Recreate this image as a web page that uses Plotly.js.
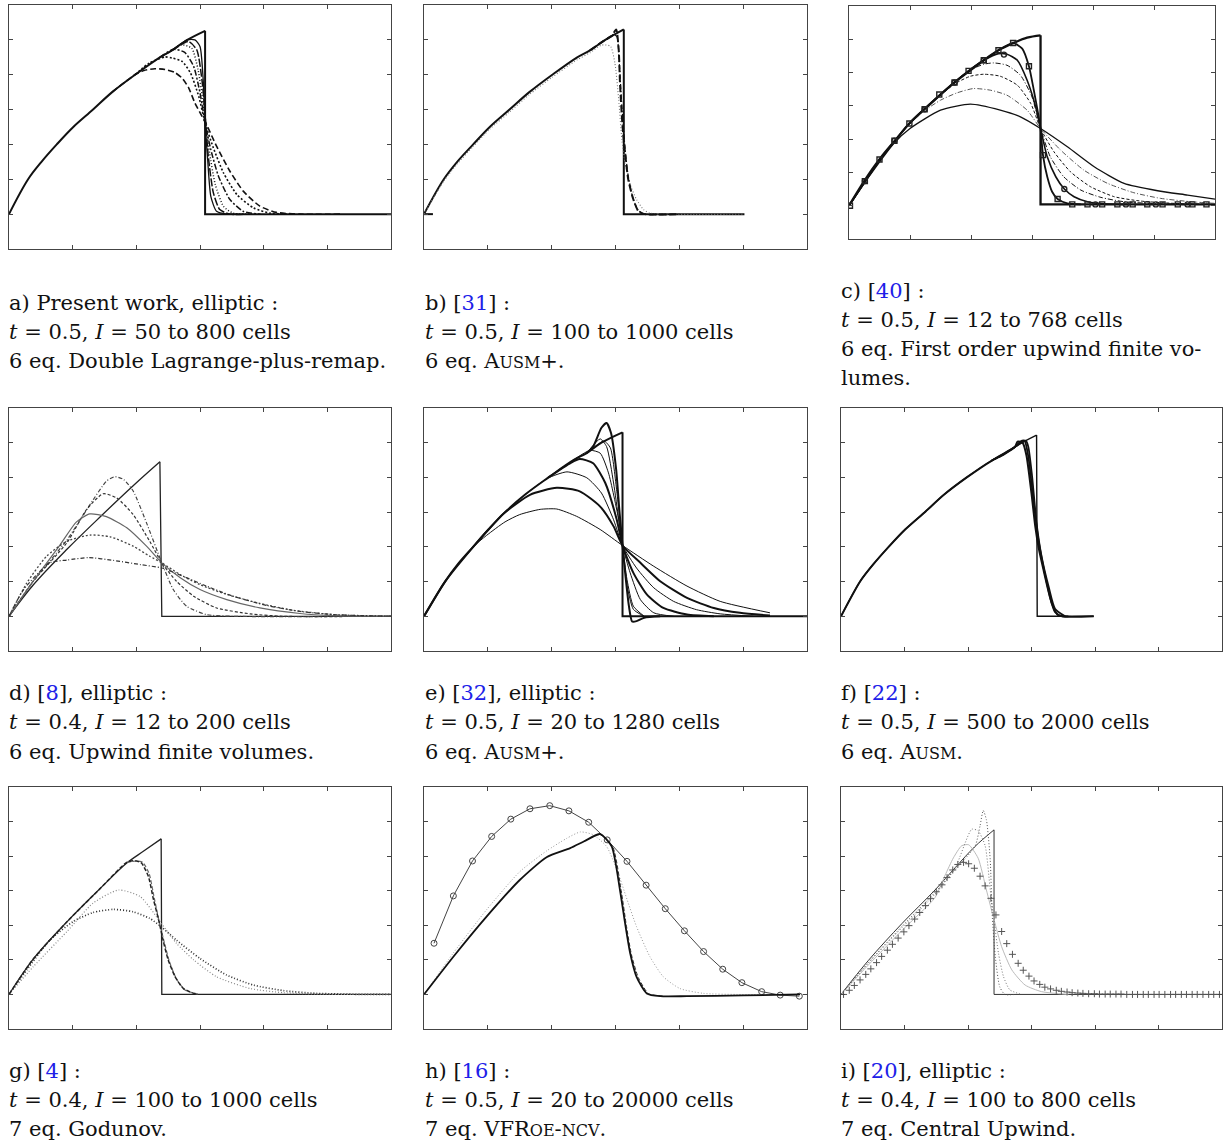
<!DOCTYPE html>
<html><head><meta charset="utf-8">
<script src="https://cdn.plot.ly/plotly-3.0.1.min.js"></script>
<style>html,body{margin:0;padding:0;background:#fff}#chart{width:1229px;height:1141px}</style>
</head><body><div id="chart"></div>
<script>
// ---------- Panel a ----------
const aRiseX=[0,0.30,0.51,0.75,1.01,1.32,1.62,1.98,2.37,2.56,2.80,3.08];
const aRiseY=[0,1,1.5,2,2.5,3,3.5,4,4.5,4.70,5.0,5.26];
const aDropX=[3.08,3.08,6];
const aDropY=[5.26,0,0];
const a1X=[1.62,1.98,2.12,2.29,2.45,2.60,2.72,2.82,2.92,3.03,3.09,3.26,3.47,3.68,3.94,4.20,4.57,5.2];
const a1Y=[3.5,4.0,4.12,4.17,4.15,4.07,3.9,3.63,3.19,2.81,2.62,1.95,1.23,0.66,0.23,0.05,0,0];
const a2X=[1.98,2.2,2.45,2.56,2.72,2.85,2.98,3.08,3.21,3.37,3.58,3.84,4.10,4.5];
const a2Y=[4.0,4.33,4.51,4.48,4.38,4.05,3.38,2.62,1.90,1.18,0.56,0.18,0.03,0];
const a3X=[2.37,2.58,2.76,2.90,3.0,3.08,3.17,3.29,3.47,3.68,3.95];
const a3Y=[4.5,4.73,4.64,4.24,3.48,2.62,1.85,1.09,0.42,0.08,0];
const a4X=[2.37,2.56,2.71,2.87,2.97,3.05,3.09,3.15,3.24,3.37,3.52,3.8];
const a4Y=[4.5,4.70,4.86,4.76,4.14,3.19,2.62,1.76,0.85,0.22,0.03,0];
const a5X=[2.56,2.82,2.95,3.03,3.07,3.09,3.13,3.21,3.31,3.47,3.7];
const a5Y=[4.70,4.95,4.71,3.86,3.1,2.62,1.66,0.61,0.13,0,0];
const a6X=[2.56,2.80,2.92,3.0,3.05,3.08,3.12,3.17,3.26,3.42,3.6];
const a6Y=[4.70,5.0,5.0,4.81,3.86,2.62,1.57,0.51,0.08,0,0];
// ---------- Panel b ----------
const bRiseX=[0,0.31,0.52,0.77,1.03,1.34,1.65,2.01,2.40,2.60,2.84,3.13];
const bRiseY=[0,1,1.5,2,2.5,3,3.5,4,4.5,4.70,5.0,5.30];
const bDropX=[3.13,3.13,5.02];
const bDropY=[5.30,0,0];
const bStubX=[0,0.14];
const bStubY=[0,0];
const b1X=[0,0.31,0.52,0.77,1.03,1.34,1.65,2.01,2.40,2.60,2.78,2.92,2.99,3.05,3.10,3.15,3.23,3.33,3.44,3.54,5.02];
const b1Y=[0,0.95,1.44,1.94,2.44,2.93,3.43,3.93,4.43,4.63,4.85,4.82,4.34,3.29,2.14,1.47,0.85,0.42,0.13,0.03,0];
const b2X=[2.60,2.84,2.94,3.01,3.05,3.07,3.11,3.15,3.20,3.28,3.36,3.46,4.0];
const b2Y=[4.70,5.0,5.11,5.30,4.73,3.77,2.52,1.76,0.99,0.42,0.08,0,0];
const b3X=[2.60,2.84,2.96,3.02,3.06,3.10,3.14,3.19,3.26,3.35,3.45,4.0];
const b3Y=[4.70,5.0,5.15,5.1,4.3,3.1,2.1,1.2,0.55,0.12,0,0];
// ---------- Panel c ----------
const cRiseX=[0,0.26,0.51,0.76,1.0,1.25,1.50,1.74,1.99,2.21,2.45,2.70,2.92,3.14];
const cRiseY=[0,0.77,1.42,1.97,2.49,2.92,3.34,3.72,4.07,4.37,4.67,4.89,5.05,5.12];
const cDropX=[3.14,3.14,6];
const cDropY=[5.12,0.04,0.04];
const c1X=[0,0.51,0.99,1.50,1.96,2.21,2.45,2.69,2.84,2.95,3.03,3.10,3.14,3.18,3.25,3.33,3.42,3.58,3.80];
const c1Y=[0,1.39,2.47,3.34,4.05,4.37,4.67,4.89,4.72,4.19,3.47,2.77,2.32,1.52,0.87,0.42,0.20,0.07,0.04];
const c2X=[0,0.51,0.99,1.50,1.96,2.21,2.45,2.59,2.76,2.92,3.06,3.14,3.25,3.39,3.53,3.69,3.91,4.24,4.56];
const c2Y=[0,1.39,2.47,3.34,4.05,4.37,4.57,4.55,4.37,3.77,2.97,2.32,1.47,0.87,0.50,0.27,0.12,0.05,0.04];
const c3X=[0,0.51,0.99,1.50,1.96,2.21,2.37,2.59,2.81,3.00,3.14,3.30,3.52,3.80,4.13,4.51,5.06,5.61];
const c3Y=[0,1.39,2.47,3.34,4.05,4.25,4.29,4.22,3.92,3.27,2.32,1.47,0.87,0.47,0.25,0.12,0.06,0.04];
const c4X=[0,0.51,0.99,1.50,1.74,1.99,2.21,2.48,2.76,2.98,3.14,3.36,3.63,3.96,4.35,4.78,5.33,6.0];
const c4Y=[0,1.39,2.47,3.32,3.67,3.89,3.95,3.89,3.62,3.07,2.32,1.62,1.02,0.57,0.27,0.14,0.07,0.04];
const c5X=[0,0.51,0.99,1.25,1.50,1.77,2.04,2.32,2.59,2.92,3.14,3.47,3.85,4.24,4.67,5.11,5.61,6.0];
const c5Y=[0,1.39,2.45,2.87,3.17,3.39,3.52,3.47,3.32,2.87,2.32,1.67,1.07,0.67,0.39,0.22,0.12,0.07];
const c6X=[0,0.345,0.745,1.0,1.50,1.99,2.48,2.81,3.14,3.58,4.02,4.51,5.06,5.55,6.0];
const c6Y=[0,0.92,1.89,2.32,2.87,3.05,2.87,2.67,2.32,1.77,1.17,0.67,0.45,0.32,0.20];
const cSqX=[0.016,0.26,0.50,0.745,0.99,1.24,1.48,1.73,1.96,2.21,2.45,2.69,2.95,3.18,3.42,3.66,3.91,4.15,4.40,4.65,4.89,5.14,5.39,5.63,5.86];
const cSqY=[0,0.74,1.39,1.95,2.47,2.90,3.34,3.70,4.05,4.37,4.67,4.89,4.19,1.52,0.20,0.04,0.04,0.04,0.04,0.04,0.04,0.04,0.04,0.04,0.04];
const cCiX=[0.26,0.745,1.24,1.73,2.21,2.54,3.53,4.04,4.54,5.03,5.55];
const cCiY=[0.74,1.95,2.90,3.70,4.37,4.54,0.50,0.04,0.04,0.04,0.04];
// ---------- Panel d ----------
const dRiseX=[0,0.38,0.91,1.43,1.95,2.37];
const dRiseY=[0,0.9,1.93,2.86,3.76,4.45];
const dDropX=[2.37,2.40,6];
const dDropY=[4.45,0,0];
const d1X=[0,0.38,0.91,1.32,1.53,1.66,1.80,1.95,2.16,2.40,2.58,2.79,3.10,3.52,6];
const d1Y=[0,1.0,2.2,3.35,3.89,4.02,3.94,3.61,2.69,1.54,0.77,0.29,0.05,0,0];
const d2X=[0,0.38,0.91,1.22,1.48,1.69,1.95,2.21,2.40,2.63,2.90,3.26,3.79,4.31,6];
const d2Y=[0,1.01,2.12,3.08,3.53,3.41,2.93,2.16,1.54,1.01,0.58,0.24,0.07,0,0];
const d3X=[0,0.38,0.80,1.06,1.27,1.53,1.85,2.16,2.40,2.69,3.0,3.42,3.94,4.57,5.09,6];
const d3Y=[0,1.01,2.05,2.72,2.95,2.87,2.55,2.02,1.54,1.11,0.77,0.48,0.24,0.08,0.02,0];
const d4X=[0,0.28,0.59,0.91,1.27,1.59,1.95,2.21,2.40,2.69,3.0,3.42,3.94,4.47,5.09,5.62,6];
const d4Y=[0,0.96,1.73,2.16,2.34,2.29,2.02,1.73,1.54,1.20,0.91,0.63,0.37,0.17,0.05,0.01,0];
const d5X=[0,0.23,0.64,0.91,1.25,1.64,2.06,2.40,2.74,3.10,3.52,4.05,4.57,5.09,6.0];
const d5Y=[0,0.77,1.54,1.62,1.69,1.61,1.49,1.39,1.15,0.87,0.58,0.31,0.14,0.05,0];
// ---------- Panel e ----------
const eRiseX=[0,0.33,0.53,0.77,1.01,1.27,1.58,1.95,2.34,2.55,2.78,3.11];
const eRiseY=[0,1,1.5,2,2.5,3,3.5,4,4.5,4.7,5.0,5.30];
const eDropX=[3.11,3.11,6];
const eDropY=[5.30,0,0];
const e1X=[0,0.33,0.77,0.98,1.27,1.50,1.82,2.08,2.39,2.76,3.11,3.60,4.12,4.64,5.42];
const e1Y=[0,1,2.0,2.33,2.72,2.93,3.08,3.09,2.88,2.50,2.04,1.44,0.87,0.43,0.10];
const e2X=[0,0.33,0.77,1.01,1.24,1.66,2.08,2.44,2.76,2.97,3.11,3.39,3.70,4.12,4.54,4.95,5.42];
const e2Y=[0,1,2,2.5,2.95,3.5,3.70,3.6,3.16,2.59,2.04,1.54,1.01,0.53,0.24,0.10,0.02];
const e3X=[1.58,1.93,2.24,2.55,2.78,2.97,3.11,3.33,3.60,3.91,4.27,4.64,5.16];
const e3Y=[3.5,3.97,4.16,3.99,3.55,2.78,2.04,1.39,0.82,0.43,0.19,0.07,0];
const e4X=[1.95,2.30,2.44,2.65,2.84,3.02,3.11,3.28,3.49,3.75,4.12,4.54];
const e4Y=[4.0,4.42,4.53,4.41,3.84,2.78,2.04,1.25,0.63,0.24,0.05,0];
const e5X=[2.34,2.60,2.76,2.89,3.05,3.11,3.23,3.39,3.60,3.91];
const e5Y=[4.5,4.78,4.70,4.13,2.78,2.04,1.25,0.48,0.10,0];
const e6X=[2.55,2.76,2.86,2.97,3.05,3.11,3.18,3.28,3.45];
const e6Y=[4.7,5.11,4.89,3.84,2.8,2.04,1.06,0.29,0];
const e7X=[2.55,2.65,2.78,2.86,2.93,3.01,3.06,3.11,3.16,3.21,3.26,3.33,3.45,3.70];
const e7Y=[4.7,4.89,5.43,5.57,5.28,4.23,3.07,2.04,1.1,0.3,-0.15,-0.14,-0.04,0];
const e8X=[2.65,2.82,2.92,3.02,3.11,3.18,3.28,3.45];
const e8Y=[4.85,5.05,4.85,3.6,2.04,0.9,0.2,0];
// ---------- Panel f ----------
const fRiseX=[0,0.30,0.51,0.75,1.01,1.32,1.62,1.98,2.37,2.56,2.80,3.08];
const fRiseY=[0,1,1.5,2,2.5,3,3.5,4,4.48,4.66,4.95,5.22];
const fDropX=[3.08,3.09,3.98];
const fDropY=[5.22,0,0];
const f1X=[0,0.30,0.51,0.75,1.01,1.32,1.62,1.98,2.37,2.56,2.74,2.78,2.86,2.92,3.00,3.06,3.11,3.19,3.29,3.37,3.48,3.98];
const f1Y=[0,1,1.5,2,2.5,3,3.5,4,4.48,4.66,4.88,5.03,5.0,4.64,3.54,2.58,2.0,1.33,0.56,0.13,0,0];
const f2X=[2.37,2.74,2.82,2.89,2.95,3.03,3.11,3.21,3.32,3.42,3.58];
const f2Y=[4.48,4.88,5.03,5.06,4.60,3.35,2.19,1.23,0.37,0.03,0];
const f3X=[2.37,2.74,2.85,2.91,2.95,3.01,3.08,3.16,3.27,3.37,3.53];
const f3Y=[4.48,4.88,5.01,5.06,4.88,4.02,2.67,1.71,0.85,0.22,0];
// ---------- Panel g ----------
const gRiseX=[0,0.38,0.91,1.43,1.85,2.11,2.39];
const gRiseY=[0,1.02,2.1,3.06,3.80,4.14,4.50];
const gDropX=[2.39,2.40,6];
const gDropY=[4.50,0,0];
const g1X=[0,0.38,0.91,1.43,1.85,1.98,2.08,2.19,2.27,2.35,2.42,2.50,2.61,2.74,2.95];
const g1Y=[0,1.02,2.1,3.06,3.82,3.87,3.80,3.41,2.74,2.16,1.57,1.0,0.51,0.17,0];
const g2X=[1.85,2.0,2.10,2.2,2.28,2.36,2.44,2.52,2.63,2.77,3.0];
const g2Y=[3.82,3.86,3.82,3.5,2.8,2.1,1.5,0.95,0.45,0.12,0];
const g3X=[0,0.38,0.91,1.32,1.72,2.06,2.39,2.63,2.90,3.26,3.79,4.31,4.83,5.36,6.0];
const g3Y=[0,0.80,1.82,2.64,3.02,2.83,2.06,1.48,1.0,0.51,0.17,0.05,0.01,0,0];
const g4X=[0,0.28,0.64,1.01,1.32,1.64,1.95,2.21,2.39,2.63,3.0,3.42,3.84,4.31,4.83,5.62,6.0];
const g4Y=[0,0.71,1.57,2.11,2.37,2.46,2.39,2.20,1.96,1.57,1.04,0.56,0.27,0.11,0.03,0,0];
// ---------- Panel h ----------
const hCircX=[0.157,0.46,0.76,1.06,1.36,1.66,1.97,2.27,2.58,2.87,3.18,3.48,3.78,4.08,4.38,4.68,4.98,5.29,5.58,5.88];
const hCircY=[1.48,2.85,3.86,4.57,5.07,5.37,5.46,5.31,4.98,4.47,3.85,3.16,2.48,1.84,1.24,0.73,0.34,0.08,-0.02,-0.05];
const h2X=[0,0.46,0.98,1.50,1.92,2.24,2.45,2.65,2.86,3.02,3.18,3.33,3.54,3.75,4.01,4.38,4.90,6];
const h2Y=[0,1.2,2.45,3.55,4.15,4.52,4.70,4.62,4.28,3.62,2.75,1.96,1.09,0.51,0.17,0.03,0,0];
const h3X=[0,0.46,0.98,1.50,1.92,2.29,2.51,2.76,2.94,3.07,3.15,3.23,3.33,3.49,3.70,4.12,5.0,5.89];
const h3Y=[0,1.09,2.25,3.31,3.97,4.23,4.43,4.64,4.28,3.02,2.06,1.19,0.51,0.03,-0.05,-0.05,-0.03,0];
const h4X=[2.51,2.76,2.96,3.09,3.17,3.25,3.36,3.52,3.75];
const h4Y=[4.43,4.62,4.25,3.0,2.0,1.15,0.48,0.02,-0.05];
// ---------- Panel i ----------
const iRiseX=[0,0.43,0.96,1.48,1.80,2.11,2.41];
const iRiseY=[0,0.98,2.05,3.02,3.67,4.28,4.76];
const iDropX=[2.41,2.41,6];
const iDropY=[4.76,0,0];
const i1X=[0,0.43,0.96,1.48,1.80,2.11,2.19,2.24,2.29,2.35,2.38,2.43,2.50,2.58,2.74];
const i1Y=[0,0.92,1.97,2.95,3.62,4.28,4.88,5.32,5.05,3.89,2.34,1.09,0.22,0,0];
const i2X=[0,0.43,0.96,1.48,1.80,2.06,2.16,2.27,2.35,2.41,2.48,2.56,2.66,2.85];
const i2Y=[0,0.9,1.93,2.9,3.67,4.78,4.73,4.30,3.03,2.16,1.19,0.51,0.13,0];
const i3X=[0,0.43,0.96,1.48,1.64,1.77,1.90,2.01,2.16,2.29,2.41,2.53,2.69,2.90,3.16,3.58];
const i3Y=[0,0.85,1.85,2.8,3.45,3.95,4.3,4.33,3.94,3.02,2.16,1.38,0.71,0.27,0.08,0];
const iPlusX=[0.04,0.13,0.21,0.30,0.39,0.47,0.56,0.64,0.73,0.81,0.90,0.99,1.07,1.16,1.24,1.33,1.41,1.50,1.59,1.67,1.76,1.84,1.93,2.01,2.10,2.19,2.27,2.36,2.44,2.53,2.61,2.70,2.79,2.87,2.96,3.04,3.13,3.21,3.30,3.39,3.47,3.56,3.64,3.73,3.81,3.90,3.99,4.07,4.16,4.24,4.33,4.41,4.50,4.59,4.67,4.76,4.84,4.93,5.01,5.10,5.19,5.27,5.36,5.44,5.53,5.61,5.70,5.79,5.87,5.96];
const iPlusY=[0,0.12,0.26,0.42,0.58,0.74,0.92,1.1,1.28,1.45,1.63,1.81,1.99,2.18,2.37,2.57,2.77,2.97,3.17,3.38,3.6,3.76,3.82,3.78,3.65,3.42,3.14,2.78,2.3,1.82,1.47,1.16,0.9,0.7,0.53,0.39,0.29,0.21,0.16,0.12,0.09,0.07,0.05,0.04,0.03,0.02,0.02,0.01,0.01,0.01,0.01,0.01,0,0,0,0,0,0,0,0,0,0,0,0,0,0,0,0,0,0];

// ---------- Captions ----------
const REF=s=>'[<span style="color:#2020e8">'+s+'</span>]';
const SC=s=>'<span style="font-size:16px">'+s+'</span>';
const captions=[
 ['a) Present work, elliptic :','<i>t</i> = 0.5, <i>I</i> = 50 to 800 cells','6 eq. Double Lagrange-plus-remap.'],
 ['b) '+REF('31')+' :','<i>t</i> = 0.5, <i>I</i> = 100 to 1000 cells','6 eq. A'+SC('USM')+'+.'],
 ['c) '+REF('40')+' :','<i>t</i> = 0.5, <i>I</i> = 12 to 768 cells','6 eq. First order upwind finite vo-','lumes.'],
 ['d) '+REF('8')+', elliptic :','<i>t</i> = 0.4, <i>I</i> = 12 to 200 cells','6 eq. Upwind finite volumes.'],
 ['e) '+REF('32')+', elliptic :','<i>t</i> = 0.5, <i>I</i> = 20 to 1280 cells','6 eq. A'+SC('USM')+'+.'],
 ['f) '+REF('22')+' :','<i>t</i> = 0.5, <i>I</i> = 500 to 2000 cells','6 eq. A'+SC('USM')+'.'],
 ['g) '+REF('4')+' :','<i>t</i> = 0.4, <i>I</i> = 100 to 1000 cells','7 eq. Godunov.'],
 ['h) '+REF('16')+' :','<i>t</i> = 0.5, <i>I</i> = 20 to 20000 cells','7 eq. VFR'+SC('OE')+'-'+SC('NCV')+'.'],
 ['i) '+REF('20')+', elliptic :','<i>t</i> = 0.4, <i>I</i> = 100 to 800 cells','7 eq. Central Upwind.']
];

// ---------- Layout geometry (pixels) ----------
const W=1229,H=1141;
const boxes=[[9,391,5,249],[424,807,5,249],[849,1215,6,239],[9,391,408,651],[424,807,408,651],[841,1222,408,651],[9,391,787,1029],[424,807,787,1029],[841,1222,787,1029]];
const capX=[7,423,839,7,423,839,7,423,839];
const capY=[[303,332,361],[303,332,361],[291,320,349,378],[693,722,752],[693,722,752],[693,722,752],[1071,1100,1129],[1071,1100,1129],[1071,1100,1129]];

const traces=[];
function L(p,x,y,color,width,dash,shape,sm){
  traces.push({type:'scatter',mode:'lines',x:x,y:y,xaxis:'x'+(p+1),yaxis:'y'+(p+1),
    line:{color:color,width:width,dash:dash||'solid',shape:shape||'spline',smoothing:sm||0.6},hoverinfo:'skip'});
}
function M(p,x,y,sym,size,color,lw,withLine){
  traces.push({type:'scatter',mode:withLine?'lines+markers':'markers',x:x,y:y,xaxis:'x'+(p+1),yaxis:'y'+(p+1),
    marker:{symbol:sym,size:size,color:color,line:{color:color,width:lw}},
    line:{color:color,width:1},hoverinfo:'skip'});
}
function EX(p,rx,ry,dx,dy,color,width){
  L(p,rx,ry,color,width,'solid','spline',1);
  L(p,dx,dy,color,width,'solid','linear');
}
const K='#111';
// a
EX(0,aRiseX,aRiseY,aDropX,aDropY,K,2);
L(0,a1X,a1Y,K,1.6,'6px,3px');
L(0,a2X,a2Y,K,1.6,'2px,2px');
L(0,a3X,a3Y,K,1.5,'6px,2px,2px,2px');
L(0,a4X,a4Y,K,1.5,'1px,2px');
L(0,a5X,a5Y,K,1.5,'8px,2px');
L(0,a6X,a6Y,K,1.3);
// b
EX(1,bRiseX,bRiseY,bDropX,bDropY,K,2);
L(1,bStubX,bStubY,K,2,'solid','linear');
L(1,b1X,b1Y,'#777',1.1,'1px,2px');
L(1,b3X,b3Y,K,1.2,'5px,2px,1px,2px');
L(1,b2X,b2Y,K,2,'7px,3px');
// c
EX(2,cRiseX,cRiseY,cDropX,cDropY,K,2.3);
L(2,c6X,c6Y,K,1.3);
L(2,c5X,c5Y,'#555',1,'5px,2px,1px,2px');
L(2,c4X,c4Y,K,1,'3px,2px');
L(2,c3X,c3Y,K,1,'5px,2px,1px,2px');
L(2,c2X,c2Y,K,1.6);
L(2,c1X,c1Y,K,1.8);
M(2,cSqX,cSqY,'square-open',5,'#222',1.4,false);
M(2,cCiX,cCiY,'circle-open',5,'#222',1.4,false);
// d
EX(3,dRiseX,dRiseY,dDropX,dDropY,'#222',1.3);
L(3,d1X,d1Y,'#444',1.2,'4px,2px,1px,2px');
L(3,d2X,d2Y,'#333',1.2,'3px,2px');
L(3,d3X,d3Y,'#666',1.2);
L(3,d4X,d4Y,'#444',1.3,'2px,2px');
L(3,d5X,d5Y,'#333',1.2,'4px,2px,1px,2px');
// e
EX(4,eRiseX,eRiseY,eDropX,eDropY,K,2);
L(4,e1X,e1Y,K,1);
L(4,e2X,e2Y,K,2);
L(4,e3X,e3Y,K,1);
L(4,e4X,e4Y,K,2);
L(4,e5X,e5Y,K,1);
L(4,e6X,e6Y,K,1);
L(4,e8X,e8Y,K,1);
L(4,e7X,e7Y,K,2);
// f
EX(5,fRiseX,fRiseY,fDropX,fDropY,K,1.4);
L(5,f1X,f1Y,K,2);
L(5,f2X,f2Y,K,1.8);
L(5,f3X,f3Y,K,1.8);
// g
EX(6,gRiseX,gRiseY,gDropX,gDropY,'#222',1.3);
L(6,g4X,g4Y,'#333',1.7,'1px,2px');
L(6,g3X,g3Y,'#888',1.2,'1px,2px');
L(6,g2X,g2Y,'#666',1.2,'4px,2px');
L(6,g1X,g1Y,'#222',1.5,'4px,2px');
// h
M(7,hCircX,hCircY,'circle-open',6,'#444',1,true);
L(7,h2X,h2Y,'#999',1,'1px,2px');
L(7,h4X,h4Y,'#333',1,'4px,2px');
L(7,h3X,h3Y,K,1.8);
// i
EX(8,iRiseX,iRiseY,iDropX,iDropY,'#333',1);
L(8,i3X,i3Y,'#bbb',1);
L(8,i2X,i2Y,'#777',1,'1px,2px');
L(8,i1X,i1Y,'#555',1,'1px,2px');
M(8,iPlusX,iPlusY,'cross-thin-open',5,'#555',1,false);

const layout={width:W,height:H,margin:{l:0,r:0,t:0,b:0},paper_bgcolor:'#fff',plot_bgcolor:'#fff',showlegend:false,annotations:[]};
boxes.forEach((b,k)=>{
  const n=k+1;
  const common={showticklabels:false,ticks:'inside',ticklen:4,tickwidth:1,tickcolor:'#444',showline:true,linecolor:'#444',linewidth:1,mirror:'ticks',showgrid:false,zeroline:false,fixedrange:true,dtick:1,tick0:0};
  layout['xaxis'+n]=Object.assign({},common,{domain:[b[0]/W,b[1]/W],range:[0,6],anchor:'y'+n});
  layout['yaxis'+n]=Object.assign({},common,{domain:[1-b[3]/H,1-b[2]/H],range:[-1,6],anchor:'x'+n});
});
captions.forEach((lines,k)=>{
  lines.forEach((t,j)=>{
    layout.annotations.push({text:t,xref:'paper',yref:'paper',x:capX[k]/W,y:1-capY[k][j]/H,xanchor:'left',yanchor:'middle',showarrow:false,
      font:{family:'DejaVu Serif',size:21,color:'#111'}});
  });
});
Plotly.newPlot('chart',traces,layout,{displayModeBar:false,staticPlot:true});
</script></body></html>
